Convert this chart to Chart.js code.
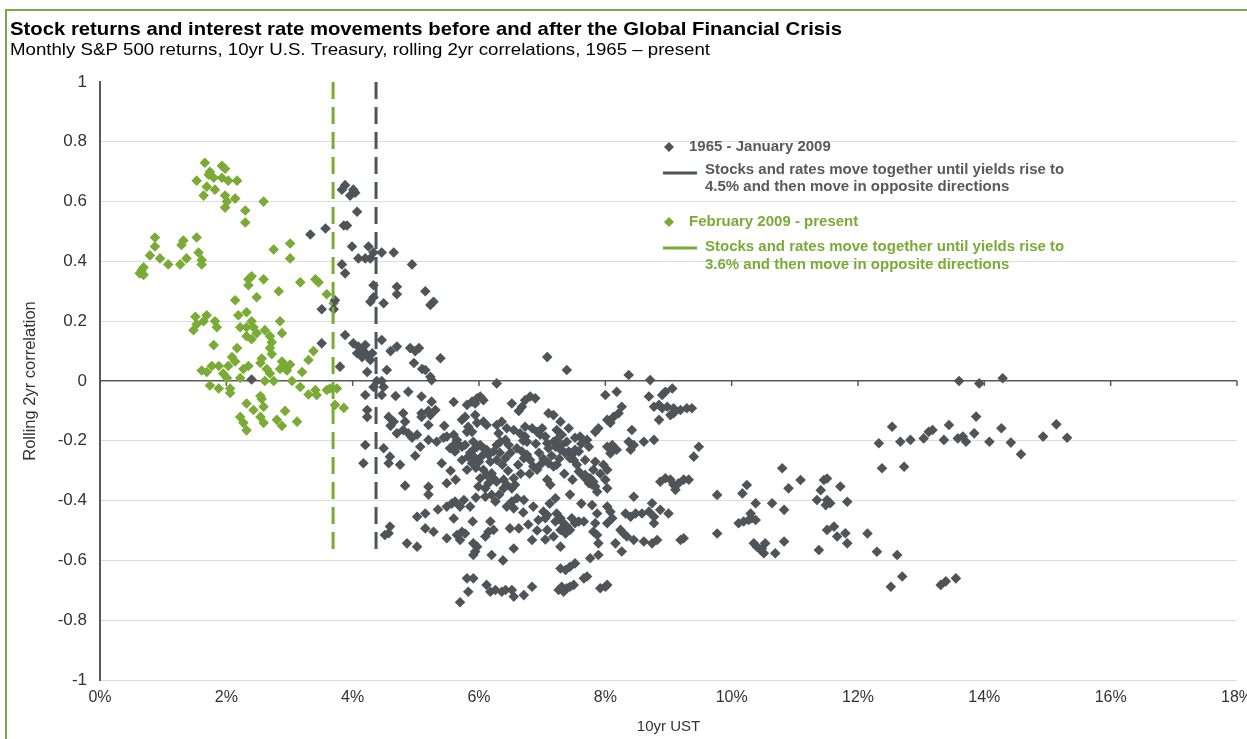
<!DOCTYPE html>
<html>
<head>
<meta charset="utf-8">
<script src="https://cdn.jsdelivr.net/npm/chart.js@4.4.0/dist/chart.umd.min.js"></script>
<style>
  html, body { margin: 0; padding: 0; background: #fff; }
  #wrap { position: relative; width: 1247px; height: 739px; overflow: hidden; }
  #frame { position: absolute; left: 5px; top: 9px; width: 1260px; height: 745px; border: 2px solid #7aa84a; box-sizing: border-box; }
  canvas { position: absolute; left: 0; top: 0; }
</style>
</head>
<body>
<div id="wrap">
  <div id="frame"></div>
  <canvas id="chart" width="1247" height="739"></canvas>
</div>
<script>
// ---- data (10yr UST %, rolling 2yr correlation) ----
const xTicks = [0, 2, 4, 6, 8, 10, 12, 14, 16, 18];
const xTickLabels = ["0%", "2%", "4%", "6%", "8%", "10%", "12%", "14%", "16%", "18%"];
const yTicks = [-1, -0.8, -0.6, -0.4, -0.2, 0, 0.2, 0.4, 0.6, 0.8, 1];
const yTickLabels = ["-1", "-0.8", "-0.6", "-0.4", "-0.2", "0", "0.2", "0.4", "0.6", "0.8", "1"];

const grayThreshold = 4.37;   // dashed line, 1965 - Jan 2009
const greenThreshold = 3.69;  // dashed line, Feb 2009 - present
const lineBottom = -0.575;

const postCrisis = [
  [1.66,0.73],[1.74,0.70],[1.72,0.69],[1.93,0.72],[1.98,0.71],[1.53,0.67],[1.80,0.68],[1.93,0.68],[2.03,0.67],[2.17,0.67],
  [1.69,0.65],[1.82,0.64],[1.98,0.62],[1.64,0.62],[2.14,0.61],[2.01,0.60],[1.98,0.58],[2.59,0.60],[2.30,0.57],[2.30,0.53],
  [0.66,0.37],[0.63,0.36],[0.69,0.38],[0.69,0.355],[0.79,0.42],[0.87,0.48],[0.87,0.45],[0.95,0.41],[1.08,0.39],[1.27,0.39],
  [1.29,0.455],[1.32,0.47],[1.37,0.41],[1.53,0.48],[1.56,0.43],[1.61,0.405],[1.61,0.39],[2.75,0.44],[3.01,0.46],[3.01,0.41],
  [2.35,0.34],[2.40,0.35],[2.35,0.32],[2.59,0.34],[2.83,0.30],[2.48,0.28],[2.14,0.27],[3.17,0.33],[3.41,0.34],[3.46,0.33],
  [3.59,0.29],[3.70,0.26],
  [1.51,0.215],[1.53,0.19],[1.48,0.17],[1.64,0.20],[1.69,0.22],[1.82,0.20],[1.85,0.18],
  [2.19,0.22],[2.32,0.23],[2.22,0.18],[2.32,0.18],[2.40,0.20],[2.43,0.18],[2.48,0.16],[2.32,0.15],[2.40,0.14],
  [2.61,0.17],[2.69,0.15],[2.72,0.13],[2.69,0.11],[2.72,0.09],[2.85,0.20],[2.88,0.16],
  [1.80,0.12],[2.17,0.11],[2.09,0.08],[2.14,0.065],[2.03,0.05],[2.27,0.04],[2.35,0.05],[2.56,0.075],[2.54,0.06],[2.64,0.04],[2.69,0.025],
  [2.88,0.065],[2.93,0.05],[2.85,0.04],[2.96,0.035],[3.01,0.055],[2.75,0.0],[2.61,0.0],[3.04,0.0],[3.30,0.07],[3.38,0.10],[3.20,0.03],
  [1.61,0.035],[1.69,0.03],[1.77,0.05],[1.88,0.05],[1.95,0.025],[2.01,0.01],[2.22,0.01],
  [1.74,-0.015],[1.88,-0.025],[2.06,-0.025],[2.06,-0.04],[3.17,-0.02],[3.30,-0.045],[3.41,-0.03],[3.43,-0.047],[3.59,-0.03],[3.64,-0.025],[3.75,-0.025],
  [2.32,-0.075],[2.54,-0.05],[2.56,-0.06],[2.43,-0.097],[2.59,-0.086],[3.72,-0.08],[3.86,-0.09],
  [2.22,-0.12],[2.27,-0.14],[2.32,-0.165],[2.54,-0.12],[2.59,-0.14],[2.80,-0.13],[2.88,-0.15],[2.93,-0.10],[3.12,-0.136]
];

const preCrisis = [
  [3.88,0.655],[3.83,0.64],[4.01,0.64],[4.04,0.63],[3.96,0.62],[4.07,0.566],[3.33,0.49],[3.57,0.51],[3.86,0.52],[3.91,0.52],
  [3.99,0.45],[4.25,0.45],[4.33,0.43],[4.46,0.43],[4.65,0.43],[4.09,0.41],[4.20,0.41],[4.28,0.41],[3.83,0.39],[3.88,0.36],
  [4.33,0.32],[4.70,0.315],[4.33,0.28],[4.28,0.265],[4.49,0.26],[4.70,0.29],[3.51,0.24],[3.70,0.24],[3.72,0.27],
  [3.51,0.126],[3.88,0.154],[4.01,0.126],[4.09,0.115],[4.17,0.10],[4.23,0.087],[4.15,0.08],[4.28,0.07],[4.46,0.137],[4.60,0.10],
  [4.54,0.037],[3.80,0.048],[4.23,0.03],[4.07,0.093],[4.20,0.12],[4.31,0.093],[4.70,0.115],
  [2.40,0.005],
  [4.38,0.0],[4.46,0.0],[4.33,-0.02],[4.49,-0.02],[4.20,-0.047],[4.46,-0.047],[4.68,-0.05],[4.23,-0.097],[4.23,-0.12],[4.57,-0.12],
  [4.65,-0.136],[4.60,-0.15],[4.70,-0.175],
  [4.94,0.39],[5.15,0.30],[5.23,0.254],[5.28,0.265],[4.91,0.11],[4.99,0.10],[5.05,0.11],[4.97,0.06],[5.10,0.04],[5.15,0.037],
  [5.39,0.076],[7.08,0.08],
  [5.23,0.014],[5.25,0.003],[6.28,-0.008],[7.39,0.037],[8.37,0.02],[8.71,0.003],
  [4.88,-0.036],[5.09,-0.052],[5.25,-0.069],[5.20,-0.10],[5.31,-0.097],[5.09,-0.108],[5.81,-0.08],[5.89,-0.069],[5.97,-0.058],[6.02,-0.052],
  [6.07,-0.064],[5.94,-0.075],[6.52,-0.075],[6.68,-0.086],[6.73,-0.064],[6.81,-0.052],[6.89,-0.058],[6.63,-0.10],[7.10,-0.108],[7.18,-0.114],[7.29,-0.136],
  [8.0,-0.047],[8.18,-0.036],[8.26,-0.086],[8.21,-0.108],[8.13,-0.12],[8.03,-0.13],[8.08,-0.14],[8.69,-0.052],[8.90,-0.047],[8.95,-0.036],[9.06,-0.025],
  [8.77,-0.086],[8.85,-0.08],[8.90,-0.091],[8.98,-0.086],[9.08,-0.091],[9.19,-0.097],[9.29,-0.091],[9.37,-0.091],[9.03,-0.114],[9.08,-0.108],[8.85,-0.13],
  [4.80,-0.108],[4.83,-0.136],[4.80,-0.164],[4.88,-0.175],[4.94,-0.19],[5.02,-0.18],[5.09,-0.12],[5.20,-0.147],[5.23,-0.114],
  [4.49,-0.225],[4.59,-0.253],[4.57,-0.275],[4.20,-0.214],[4.17,-0.275],
  [5.07,-0.22],[4.99,-0.25],[5.20,-0.197],[4.75,-0.28],[4.83,-0.35],[5.20,-0.354],[5.20,-0.38],[5.49,-0.342],[5.41,-0.275],
  [5.33,-0.203],[5.44,-0.19],[5.49,-0.186],[5.60,-0.18],[5.65,-0.197],[5.68,-0.214],[5.60,-0.214],[5.54,-0.225],[5.62,-0.236],[5.73,-0.22],
  [5.78,-0.214],[5.73,-0.264],[5.83,-0.253],[5.81,-0.297],
  [5.91,-0.203],[5.97,-0.22],[5.91,-0.23],[6.02,-0.214],[6.07,-0.225],[5.94,-0.258],[6.0,-0.27],[5.89,-0.275],[6.12,-0.23],[6.15,-0.247],
  [6.28,-0.214],[6.34,-0.203],[6.42,-0.197],[6.47,-0.214],[6.23,-0.236],[6.28,-0.264],[6.42,-0.258],
  [5.73,-0.13],[5.78,-0.12],[5.83,-0.153],[5.81,-0.17],[5.94,-0.114],[5.97,-0.14],[6.07,-0.136],[6.12,-0.147],[5.89,-0.17],
  [6.28,-0.147],[6.36,-0.136],[6.44,-0.158],[6.31,-0.175],
  [6.55,-0.164],[6.65,-0.175],[6.73,-0.186],[6.76,-0.203],[6.73,-0.153],[6.84,-0.158],[6.92,-0.17],[6.97,-0.18],[7.05,-0.186],[7.0,-0.158],
  [6.60,-0.225],[6.68,-0.236],[6.76,-0.247],[6.71,-0.258],[6.81,-0.264],[6.86,-0.286],[6.92,-0.297],[6.97,-0.28],
  [7.08,-0.208],[7.10,-0.225],[7.18,-0.203],[7.23,-0.197],[7.21,-0.22],[7.29,-0.23],[7.31,-0.214],[7.39,-0.203],
  [7.42,-0.236],[7.47,-0.247],[7.44,-0.258],[7.52,-0.23],[7.58,-0.236],[7.50,-0.264],
  [7.23,-0.164],[7.31,-0.18],[7.42,-0.158],[7.52,-0.19],[7.60,-0.186],[7.71,-0.197],[7.74,-0.22],[7.84,-0.17],[7.89,-0.158],
  [8.03,-0.22],[8.11,-0.214],[8.18,-0.23],[8.08,-0.242],[8.37,-0.203],[8.45,-0.214],[8.40,-0.23],[8.61,-0.203],[8.77,-0.197],[8.42,-0.164],
  [7.10,-0.275],[7.18,-0.286],[7.23,-0.28],[7.08,-0.33],[7.13,-0.347],[7.58,-0.303],[7.68,-0.264],
  [7.66,-0.32],[7.71,-0.33],[7.74,-0.342],[7.79,-0.347],[7.81,-0.337],[7.76,-0.325],[7.84,-0.353],[7.87,-0.37],[7.68,-0.314],[7.81,-0.297],
  [7.97,-0.28],[8.03,-0.297],[8.0,-0.33],[8.03,-0.359],[7.84,-0.27],
  [8.87,-0.337],[8.95,-0.325],[9.03,-0.33],[9.08,-0.347],[9.11,-0.364],[9.16,-0.342],[9.24,-0.33],[9.32,-0.33],[9.40,-0.253],[9.48,-0.22],
  [6.07,-0.297],[6.12,-0.314],[6.20,-0.309],[6.23,-0.325],[6.28,-0.337],[6.15,-0.342],[6.10,-0.359],[6.02,-0.325],[5.99,-0.353],
  [6.39,-0.33],[6.44,-0.347],[6.52,-0.359],[6.39,-0.359],[6.57,-0.347],[6.55,-0.325],
  [6.10,-0.387],[6.26,-0.403],[6.20,-0.381],[6.52,-0.403],[6.60,-0.392],[6.71,-0.398],[6.55,-0.426],
  [6.86,-0.42],[6.94,-0.465],[7.02,-0.437],[7.08,-0.448],[7.05,-0.459],[7.21,-0.392],
  [7.23,-0.443],[7.29,-0.459],[7.34,-0.476],[7.21,-0.47],[7.39,-0.487],[7.44,-0.498],[7.29,-0.498],[7.37,-0.51],
  [7.47,-0.459],[7.52,-0.476],[7.58,-0.47],[7.66,-0.47],[7.44,-0.38],
  [7.08,-0.498],[7.18,-0.52],[7.05,-0.53],[7.29,-0.554],
  [7.79,-0.415],[7.87,-0.443],[7.84,-0.476],[7.81,-0.504],[7.87,-0.515],[7.89,-0.543],[7.76,-0.593],[7.89,-0.582],
  [8.03,-0.42],[8.08,-0.437],[8.11,-0.459],[8.03,-0.476],
  [8.24,-0.498],[8.29,-0.51],[8.34,-0.52],[8.45,-0.532],[8.16,-0.543],[8.26,-0.57],
  [8.32,-0.443],[8.40,-0.454],[8.48,-0.443],[8.45,-0.387],
  [8.58,-0.443],[8.69,-0.437],[8.74,-0.409],[8.77,-0.454],[8.87,-0.431],[9.0,-0.443],
  [8.61,-0.537],[8.74,-0.543],[8.82,-0.532],[9.19,-0.532],[9.24,-0.526],[8.77,-0.476],
  [5.70,-0.42],[5.57,-0.41],[5.49,-0.42],[5.62,-0.403],[5.76,-0.398],[5.86,-0.42],
  [5.49,-0.526],[5.65,-0.515],[5.70,-0.532],[5.78,-0.51],[5.73,-0.504],
  [5.91,-0.543],[5.97,-0.554],[5.94,-0.57],[5.91,-0.582],
  [6.18,-0.47],[6.15,-0.504],[6.23,-0.498],[6.10,-0.52],[6.20,-0.582],
  [6.49,-0.493],[6.63,-0.493],[6.84,-0.532],
  [5.02,-0.454],[5.15,-0.443],[5.15,-0.493],[5.28,-0.504],[4.86,-0.543],[5.02,-0.554],
  [4.59,-0.487],[4.57,-0.509],[4.51,-0.515],
  [5.81,-0.66],[5.91,-0.66],[5.83,-0.705],[5.70,-0.74],
  [6.12,-0.682],[6.18,-0.705],[6.26,-0.699],[6.36,-0.705],[6.42,-0.699],[6.52,-0.699],[6.55,-0.721],[6.71,-0.716],[6.84,-0.688],
  [7.29,-0.627],[7.37,-0.632],[7.44,-0.621],[7.52,-0.61],[7.66,-0.66],[7.71,-0.654],
  [7.26,-0.699],[7.34,-0.705],[7.39,-0.693],[7.44,-0.688],[7.50,-0.682],[7.31,-0.688],
  [7.92,-0.693],[8.0,-0.688],[8.03,-0.682],
  [5.86,-0.24],[5.95,-0.29],[6.05,-0.25],[6.18,-0.27],[6.33,-0.24],[6.37,-0.28],[6.50,-0.24],[6.46,-0.30],[6.62,-0.28],[6.66,-0.31],
  [6.80,-0.31],[6.70,-0.20],[6.90,-0.21],[6.95,-0.24],[7.02,-0.26],[7.15,-0.25],[7.27,-0.26],[7.36,-0.24],[7.55,-0.28],[7.62,-0.21],
  [7.35,-0.31],[7.48,-0.33],[7.92,-0.31],[6.32,-0.38],[6.44,-0.42],[6.70,-0.44],[6.78,-0.48],[6.92,-0.50],[7.12,-0.41],[7.62,-0.41],
  [5.55,-0.30],[5.63,-0.33],[5.95,-0.39],[5.90,-0.47],[5.60,-0.46],[5.35,-0.43],[6.38,-0.60],[6.55,-0.56],[5.60,-0.07],[5.45,-0.15],
  [9.77,-0.381],[9.77,-0.51],[10.17,-0.376],[10.24,-0.348],[10.38,-0.409],[10.11,-0.476],[10.19,-0.47],[10.27,-0.465],[10.32,-0.459],[10.38,-0.465],
  [10.30,-0.443],[10.35,-0.543],[10.40,-0.554],[10.46,-0.565],[10.51,-0.576],[10.53,-0.543],[10.48,-0.56],[10.69,-0.576],[10.83,-0.537],[10.64,-0.409],
  [10.83,-0.431],[10.80,-0.292],[10.90,-0.359],[11.09,-0.331],[11.35,-0.398],[11.41,-0.365],[11.46,-0.331],[11.51,-0.326],[11.51,-0.398],[11.56,-0.409],
  [11.49,-0.415],[11.72,-0.353],[11.83,-0.404],[11.38,-0.565],[11.51,-0.498],[11.62,-0.487],[11.67,-0.52],[11.80,-0.509],[11.83,-0.543],[12.15,-0.51],
  [12.30,-0.571],[12.62,-0.582],[12.33,-0.208],[12.38,-0.292],[12.54,-0.153],[12.67,-0.203],[12.83,-0.197],[12.73,-0.287],[13.04,-0.192],[13.12,-0.17],
  [13.18,-0.164],[13.36,-0.197],[13.44,-0.147],[12.52,-0.688],[12.70,-0.654],[13.31,-0.682],[13.39,-0.67],
  [13.60,0.0],[13.92,-0.008],[14.29,0.009],[13.58,-0.192],[13.66,-0.186],[13.71,-0.203],[13.87,-0.119],[13.84,-0.175],[14.08,-0.203],[14.27,-0.158],
  [14.42,-0.206],[14.58,-0.245],[14.93,-0.186],[15.14,-0.145],[15.31,-0.19],[13.55,-0.66]
];

const GRAY = "#4f5459";
const GREEN = "#7aab35";
const FONT = '"Liberation Sans", Arial, sans-serif';

Chart.defaults.font.family = FONT;
Chart.defaults.color = "#333";

// title, legend notes and the small tick marks on the zero line
const annotations = {
  id: "annotations",
  beforeDatasetsDraw(chart) {
    const { ctx, scales: { x, y } } = chart;
    const y0 = y.getPixelForValue(0);
    ctx.save();
    ctx.strokeStyle = "#595959";
    ctx.lineWidth = 1.5;
    xTicks.forEach((v) => {
      const px = x.getPixelForValue(v);
      ctx.beginPath();
      ctx.moveTo(px, y0);
      ctx.lineTo(px, y0 + 5);
      ctx.stroke();
    });
    ctx.restore();
  },
  afterDraw(chart) {
    const ctx = chart.ctx;
    ctx.save();
    ctx.textBaseline = "middle";
    ctx.fillStyle = "#000";

    // the source text is a bit wider than Arial at this height
    const stretched = (text, x, y, width) => {
      const w = ctx.measureText(text).width;
      ctx.save();
      ctx.translate(x, y);
      ctx.scale(width / w, 1);
      ctx.fillText(text, 0, 0);
      ctx.restore();
    };
    ctx.font = "bold 19px " + FONT;
    stretched("Stock returns and interest rate movements before and after the Global Financial Crisis", 10, 30, 832);
    ctx.font = "16.5px " + FONT;
    stretched("Monthly S&P 500 returns, 10yr U.S. Treasury, rolling 2yr correlations, 1965 \u2013 present", 10, 50, 700);

    const diamond = (cx, cy, r, color) => {
      ctx.fillStyle = color;
      ctx.beginPath();
      ctx.moveTo(cx, cy - r);
      ctx.lineTo(cx + r, cy);
      ctx.lineTo(cx, cy + r);
      ctx.lineTo(cx - r, cy);
      ctx.closePath();
      ctx.fill();
    };
    const sample = (y0, color) => {
      ctx.strokeStyle = color;
      ctx.lineWidth = 3;
      ctx.beginPath();
      ctx.moveTo(663, y0);
      ctx.lineTo(697, y0);
      ctx.stroke();
    };

    ctx.font = "bold 15px " + FONT;
    diamond(669, 147, 5, GRAY);
    ctx.fillStyle = "#595959";
    ctx.fillText("1965 - January 2009", 689, 147);
    sample(173, GRAY);
    ctx.fillStyle = "#595959";
    ctx.fillText("Stocks and rates move together until yields rise to", 705, 170);
    ctx.fillText("4.5% and then move in opposite directions", 705, 187);

    diamond(669, 222, 5, GREEN);
    ctx.fillStyle = GREEN;
    ctx.fillText("February 2009 - present", 689, 222);
    sample(248, GREEN);
    ctx.fillStyle = GREEN;
    ctx.fillText("Stocks and rates move together until yields rise to", 705, 247);
    ctx.fillText("3.6% and then move in opposite directions", 705, 265);
    ctx.restore();
  }
};

new Chart(document.getElementById("chart"), {
  type: "scatter",
  data: {
    datasets: [
      {
        label: "threshold 1965 - January 2009",
        data: [{ x: grayThreshold, y: 1 }, { x: grayThreshold, y: lineBottom }],
        showLine: true,
        borderColor: GRAY,
        borderWidth: 3,
        borderDash: [17, 8],
        pointRadius: 0
      },
      {
        label: "threshold February 2009 - present",
        data: [{ x: greenThreshold, y: 1 }, { x: greenThreshold, y: lineBottom }],
        showLine: true,
        borderColor: GREEN,
        borderWidth: 3,
        borderDash: [17, 8],
        pointRadius: 0
      },
      {
        label: "1965 - January 2009",
        data: preCrisis.map(([x, y]) => ({ x, y })),
        pointStyle: "rectRot",
        pointRadius: 5.3,
        backgroundColor: GRAY,
        borderColor: GRAY,
        borderWidth: 0
      },
      {
        label: "February 2009 - present",
        data: postCrisis.map(([x, y]) => ({ x, y })),
        pointStyle: "rectRot",
        pointRadius: 5.3,
        backgroundColor: GREEN,
        borderColor: GREEN,
        borderWidth: 0
      }
    ]
  },
  options: {
    responsive: false,
    animation: false,
    events: [],
    layout: { padding: { left: 0, right: 10, top: 82, bottom: 0 } },
    plugins: { legend: { display: false }, title: { display: false }, tooltip: { enabled: false } },
    scales: {
      x: {
        type: "linear",
        min: 0,
        max: 18,
        afterBuildTicks: (s) => { s.ticks = xTicks.map((v) => ({ value: v })); },
        ticks: { callback: (v, i) => xTickLabels[i], font: { size: 16 }, color: "#333", padding: 8, maxRotation: 0 },
        grid: { display: false, drawTicks: false },
        border: { display: false },
        title: { display: true, text: "10yr UST", font: { size: 15 }, color: "#333", padding: { top: 4, bottom: 3 } },
        afterFit: (s) => { s.height = 59; s.paddingLeft = 0; s.paddingRight = 0; }
      },
      y: {
        type: "linear",
        min: -1,
        max: 1,
        afterBuildTicks: (s) => { s.ticks = yTicks.map((v) => ({ value: v })); },
        ticks: { callback: (v, i) => yTickLabels[i], font: { size: 17 }, color: "#333", padding: 13 },
        grid: {
          drawTicks: false,
          color: (c) => (c.tick.value === 0 ? "#595959" : c.tick.value === 1 ? "rgba(0,0,0,0)" : "#dcdcdc"),
          lineWidth: (c) => (c.tick.value === 0 ? 1.5 : 1)
        },
        border: { color: "#595959", width: 2 },
        title: { display: true, text: "Rolling 2yr correlation", font: { size: 16.5 }, color: "#333", padding: { top: 21, bottom: 0 } },
        afterFit: (s) => { s.width = 100; s.paddingTop = 0; s.paddingBottom = 0; }
      }
    }
  },
  plugins: [annotations]
});
</script>
</body>
</html>
